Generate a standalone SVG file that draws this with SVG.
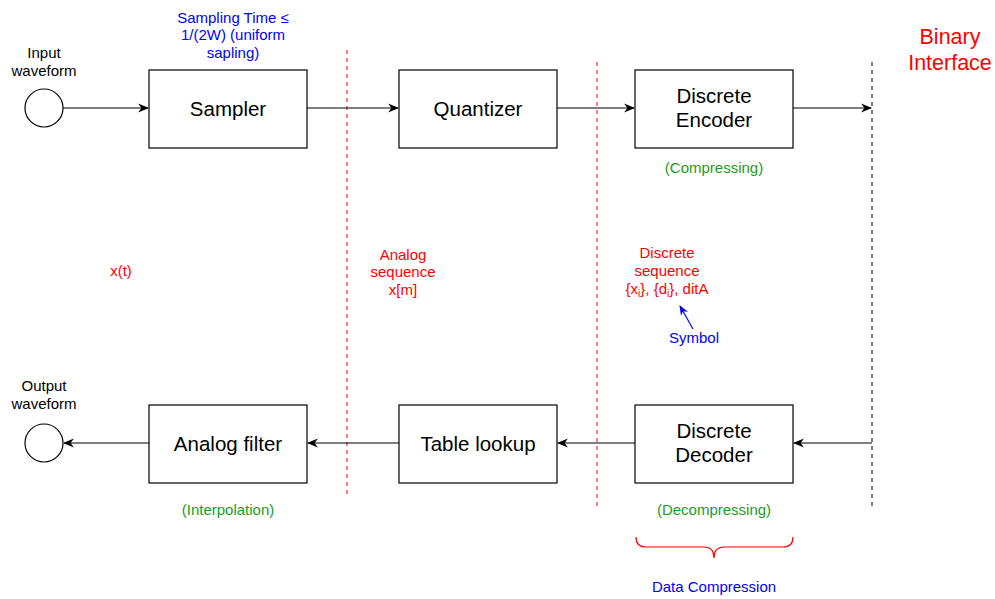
<svg xmlns="http://www.w3.org/2000/svg" width="995" height="599" viewBox="0 0 995 599">
  <defs>
    <style>
      .box { fill: #fff; stroke: #000; stroke-width: 1.2; }
      .term { fill: #fff; stroke: #000; stroke-width: 1.2; }
      .lbl { font-family: "Liberation Sans", Arial, sans-serif; text-anchor: middle; }
      .big { font-size: 20.5px; fill: #000; }
      .sm { font-size: 15px; fill: #000; }
      .red { fill: #ff0000; }
      .blue { fill: #0000ff; }
      .green { fill: #1e9b1e; }
      .wire { stroke: #000; stroke-width: 1.2; fill: none; marker-end: url(#arr); }
      .rdash { stroke: #ff0000; stroke-width: 1; stroke-dasharray: 4 4; fill: none; }
      .kdash { stroke: #000; stroke-width: 1; stroke-dasharray: 4 4; fill: none; }
    </style>
    <marker id="arr" viewBox="0 0 10 10" refX="9" refY="5" markerWidth="11" markerHeight="11" markerUnits="userSpaceOnUse" orient="auto">
      <path d="M0,1 L10,5 L0,9 L3,5 Z" fill="#000"/>
    </marker>
    <marker id="arrBlue" viewBox="0 0 10 10" refX="9" refY="5" markerWidth="10" markerHeight="10" markerUnits="userSpaceOnUse" orient="auto">
      <path d="M0,1 L10,5 L0,9 L3,5 Z" fill="#0000ff"/>
    </marker>
  </defs>

  <!-- boundaries -->
  <g id="boundaries">
    <line class="rdash" x1="347" y1="50" x2="347" y2="497"/>
    <line class="rdash" x1="597" y1="62" x2="597" y2="510"/>
    <line class="kdash" x1="872" y1="62" x2="872" y2="510"/>
  </g>

  <!-- connectors -->
  <g id="connectors">
    <line class="wire" x1="63" y1="108" x2="148" y2="108"/>
    <line class="wire" x1="307" y1="108" x2="398" y2="108"/>
    <line class="wire" x1="557" y1="108" x2="634" y2="108"/>
    <line class="wire" x1="793" y1="108" x2="871" y2="108"/>
    <line class="wire" x1="872" y1="443" x2="794" y2="443"/>
    <line class="wire" x1="635" y1="443" x2="558" y2="443"/>
    <line class="wire" x1="399" y1="443" x2="308" y2="443"/>
    <line class="wire" x1="149" y1="443" x2="64" y2="443"/>
    <line x1="693" y1="329" x2="680" y2="306" stroke="#0000ff" stroke-width="1.2" marker-end="url(#arrBlue)"/>
  </g>

  <!-- top chain -->
  <g id="input">
    <circle class="term" cx="44" cy="108" r="19"/>
    <text class="lbl sm" x="44" y="58">Input</text>
    <text class="lbl sm" x="44" y="76">waveform</text>
  </g>
  <g id="sampler">
    <rect class="box" x="149" y="70" width="158" height="78"/>
    <text class="lbl big" x="228" y="116">Sampler</text>
  </g>
  <g id="quantizer">
    <rect class="box" x="399" y="70" width="158" height="78"/>
    <text class="lbl big" x="478" y="116">Quantizer</text>
  </g>
  <g id="encoder">
    <rect class="box" x="635" y="70" width="158" height="78"/>
    <text class="lbl big" x="714" y="103">Discrete</text>
    <text class="lbl big" x="714" y="127">Encoder</text>
  </g>

  <!-- bottom chain -->
  <g id="output">
    <circle class="term" cx="44" cy="443" r="19"/>
    <text class="lbl sm" x="44" y="391">Output</text>
    <text class="lbl sm" x="44" y="409">waveform</text>
  </g>
  <g id="filter">
    <rect class="box" x="149" y="405" width="158" height="78"/>
    <text class="lbl big" x="228" y="451">Analog filter</text>
  </g>
  <g id="lookup">
    <rect class="box" x="399" y="405" width="158" height="78"/>
    <text class="lbl big" x="478" y="451">Table lookup</text>
  </g>
  <g id="decoder">
    <rect class="box" x="635" y="405" width="158" height="78"/>
    <text class="lbl big" x="714" y="438">Discrete</text>
    <text class="lbl big" x="714" y="462">Decoder</text>
  </g>

  <!-- annotations -->
  <g id="annotations">
    <text class="lbl sm blue" x="233" y="23">Sampling Time ≤</text>
    <text class="lbl sm blue" x="233" y="40">1/(2W) (uniform</text>
    <text class="lbl sm blue" x="233" y="58">sapling)</text>

    <text class="lbl red" x="950" y="44" font-size="21.5">Binary</text>
    <text class="lbl red" x="950" y="70" font-size="21.5">Interface</text>

    <text class="lbl sm green" x="714" y="173">(Compressing)</text>
    <text class="lbl sm green" x="228" y="515">(Interpolation)</text>
    <text class="lbl sm green" x="714" y="515">(Decompressing)</text>

    <text class="lbl sm red" x="121" y="276">x(t)</text>

    <text class="lbl sm red" x="403" y="260">Analog</text>
    <text class="lbl sm red" x="403" y="277">sequence</text>
    <text class="lbl sm red" x="403" y="295">x[m]</text>

    <text class="lbl sm red" x="667" y="258">Discrete</text>
    <text class="lbl sm red" x="667" y="276">sequence</text>
    <text class="lbl sm red" x="667" y="294">{x<tspan font-size="10" dy="3">i</tspan><tspan dy="-3">}, {d</tspan><tspan font-size="10" dy="3">i</tspan><tspan dy="-3">}, ditA</tspan></text>

    <text class="lbl sm blue" x="694" y="343">Symbol</text>

    <path d="M636,537 Q636,547 646,547 L704,547 Q714,547 714,558 Q714,547 724,547 L783,547 Q793,547 793,537" fill="none" stroke="#ff0000" stroke-width="1.2"/>
    <text class="lbl sm blue" x="714" y="592">Data Compression</text>
  </g>
</svg>
